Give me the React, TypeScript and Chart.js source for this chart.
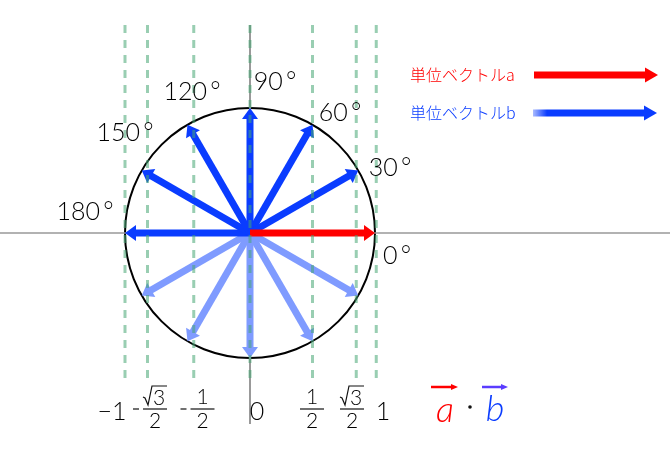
import { useEffect, useRef } from 'react';
import { Chart, registerables } from 'chart.js';

Chart.register(...registerables);

// unit vector tips (cos, sin)
const angleLabels = ['0\u2009°', '30\u2009°', '60\u2009°', '90\u2009°', '120\u2009°', '150\u2009°', '180\u2009°'];
const tipX = [1, 0.866, 0.5, 0, -0.5, -0.866, -1, -0.866, -0.5, 0, 0.5, 0.866];
const tipY = [0, 0.5, 0.866, 1, 0.866, 0.5, 0, -0.5, -0.866, -1, -0.866, -0.5];
// dashed guide lines (x values)
const guideX = [-1, -0.82, -0.45, 0, 0.5, 0.85, 1.01];
// bottom tick labels
const tickText = ['−1', '−√3/2', '−1/2', '0', '1/2', '√3/2', '1'];
const tickX = [-1.104, -0.76, -0.38, 0.056, 0.496, 0.816, 1.064];

const legendLabels = ['単位ベクトルa', '単位ベクトルb'];

// label anchors (data units)
const angleLabelX = [1.176, 1.12, 0.72, 0.2, -0.464, -1.0, -1.32];
const angleLabelY = [-0.184, 0.52, 0.96, 1.208, 1.128, 0.8, 0.168];

const RED = '#ff0000';
const BLUE = '#0a3cff';
const LIGHT = '#7f9bff';
const NUM_FONT = '300 25px Lato, "DejaVu Sans", sans-serif';

function drawArrow(ctx: CanvasRenderingContext2D, x0: number, y0: number, x1: number, y1: number,
  color: string, shaft: number, headLen: number, headW: number, fade = false) {
  const dx = x1 - x0, dy = y1 - y0;
  const len = Math.hypot(dx, dy);
  const ux = dx / len, uy = dy / len;
  const bx = x1 - ux * headLen, by = y1 - uy * headLen;
  ctx.save();
  if (fade) {
    const g = ctx.createLinearGradient(x0, y0, x0 + ux * 14, y0 + uy * 14);
    g.addColorStop(0, 'rgba(10,60,255,0.35)');
    g.addColorStop(1, color);
    ctx.strokeStyle = g;
  } else {
    ctx.strokeStyle = color;
  }
  ctx.lineWidth = shaft;
  ctx.lineCap = 'butt';
  ctx.beginPath();
  ctx.moveTo(x0, y0);
  ctx.lineTo(bx + ux, by + uy);
  ctx.stroke();
  ctx.fillStyle = color;
  ctx.beginPath();
  ctx.moveTo(x1, y1);
  ctx.lineTo(bx - uy * headW / 2, by + ux * headW / 2);
  ctx.lineTo(bx + uy * headW / 2, by - ux * headW / 2);
  ctx.closePath();
  ctx.fill();
  ctx.restore();
}

function drawFraction(ctx: CanvasRenderingContext2D, cx: number, cy: number, text: string) {
  ctx.save();
  ctx.fillStyle = '#000';
  ctx.strokeStyle = '#111';
  ctx.textAlign = 'center';
  ctx.textBaseline = 'middle';
  let t = text;
  let minus = false;
  if (t.startsWith('−')) { minus = true; t = t.slice(1); }
  const [num, den] = t.split('/');
  if (!den) {
    ctx.font = NUM_FONT;
    ctx.fillText(text, cx, cy);
    ctx.restore();
    return;
  }
  const barY = cy - 3;
  ctx.lineWidth = 1.2;
  ctx.beginPath();
  ctx.moveTo(cx - 12, barY);
  ctx.lineTo(cx + 12, barY);
  ctx.stroke();
  if (minus) {
    ctx.beginPath();
    ctx.moveTo(cx - 22, barY);
    ctx.lineTo(cx - 16, barY);
    ctx.stroke();
  }
  ctx.font = '300 21px Lato, "DejaVu Sans", sans-serif';
  ctx.fillText(den, cx, barY + 12);
  if (num.startsWith('√')) {
    ctx.fillText('3', cx + 4, barY - 11);
    ctx.beginPath();
    ctx.moveTo(cx - 12, barY - 12);
    ctx.lineTo(cx - 10, barY - 11);
    ctx.lineTo(cx - 7, barY - 4);
    ctx.lineTo(cx - 3, barY - 23);
    ctx.lineTo(cx + 12, barY - 23);
    ctx.stroke();
  } else {
    ctx.fillText(num, cx, barY - 12);
  }
  ctx.restore();
}

const diagramPlugin = {
  id: 'diagram',
  beforeDatasetsDraw(chart: any) {
    const { ctx, scales } = chart;
    const xs = scales.x, ys = scales.y;
    const cx = xs.getPixelForValue(0), cy = ys.getPixelForValue(0);
    const r = xs.getPixelForValue(1) - cx;
    ctx.save();
    ctx.strokeStyle = '#000';
    ctx.lineWidth = 2;
    ctx.beginPath();
    ctx.arc(cx, cy, r, 0, Math.PI * 2);
    ctx.stroke();
    ctx.restore();
  },
  afterDatasetDraw(chart: any, args: any) {
    const ds = chart.data.datasets[args.index];
    if (!ds.arrow) return;
    const pts = args.meta.data;
    const { ctx } = chart;
    drawArrow(ctx, pts[0].x, pts[0].y, pts[1].x, pts[1].y, ds.arrow.color,
      ds.arrow.shaft, ds.arrow.headLen, ds.arrow.headW, ds.arrow.fade);
  },
  afterDraw(chart: any) {
    const { ctx, scales } = chart;
    const xs = scales.x, ys = scales.y;
    ctx.save();
    ctx.fillStyle = '#000';
    ctx.font = NUM_FONT;
    ctx.textAlign = 'center';
    ctx.textBaseline = 'middle';
    angleLabels.forEach((t, i) => {
      ctx.fillText(t, xs.getPixelForValue(angleLabelX[i]), ys.getPixelForValue(angleLabelY[i]));
    });
    const tickY = ys.getPixelForValue(-1.432);
    tickText.forEach((t, i) => drawFraction(ctx, xs.getPixelForValue(tickX[i]), tickY, t));

    // legend texts
    ctx.font = '300 16px "Noto Sans CJK JP", sans-serif';
    ctx.textAlign = 'left';
    ctx.fillStyle = RED;
    ctx.fillText(legendLabels[0], xs.getPixelForValue(1.28), ys.getPixelForValue(1.264));
    ctx.fillStyle = BLUE;
    ctx.fillText(legendLabels[1], xs.getPixelForValue(1.28), ys.getPixelForValue(0.96));

    // a · b
    const ax = xs.getPixelForValue(1.56), ay = ys.getPixelForValue(-1.432);
    ctx.textAlign = 'center';
    ctx.font = 'italic 300 36px Lato, "DejaVu Sans", sans-serif';
    ctx.fillStyle = RED;
    ctx.fillText('a', ax, ay - 2);
    drawArrow(ctx, ax - 14, ay - 25, ax + 13, ay - 25, RED, 2.5, 7, 6);
    ctx.fillStyle = '#111';
    ctx.beginPath();
    ctx.arc(ax + 25, ay - 5, 1.8, 0, Math.PI * 2);
    ctx.fill();
    ctx.fillStyle = BLUE;
    ctx.fillText('b', ax + 50, ay - 3);
    drawArrow(ctx, ax + 37, ay - 25, ax + 63, ay - 25, '#5a3cff', 2.5, 7, 6);
    ctx.restore();
  },
};

function seg(x0: number, y0: number, x1: number, y1: number) {
  return [{ x: x0, y: y0 }, { x: x1, y: y1 }];
}

export default function App() {
  const canvasRef = useRef<HTMLCanvasElement>(null);
  const chartRef = useRef<Chart | null>(null);

  useEffect(() => {
    document.body.style.margin = '0';
    if (!canvasRef.current) return;
    if (chartRef.current) chartRef.current.destroy();

    const datasets: any[] = [];
    // axes
    datasets.push({ data: seg(-2, 0, 3.36, 0), borderColor: '#999', borderWidth: 1.5, showLine: true, pointRadius: 0, order: 10 });
    datasets.push({ data: seg(0, 1.664, 0, -1.528), borderColor: '#999', borderWidth: 2, showLine: true, pointRadius: 0, order: 10 });
    // unit vectors b (lower half lighter), a drawn last
    tipX.forEach((tx, i) => {
      if (i === 0) return;
      datasets.push({
        data: seg(0, 0, tx, tipY[i]), showLine: false, pointRadius: 0, order: i > 6 ? 6 : 5,
        arrow: { color: i > 6 ? LIGHT : BLUE, shaft: 7, headLen: 11, headW: 16 },
      });
    });
    datasets.push({
      data: seg(0, 0, tipX[0], tipY[0]), showLine: false, pointRadius: 0, order: 4,
      arrow: { color: RED, shaft: 7, headLen: 11, headW: 16 },
    });
    // legend arrows
    datasets.push({
      data: seg(2.272, 1.264, 3.264, 1.264), showLine: false, pointRadius: 0, order: 4,
      arrow: { color: RED, shaft: 7, headLen: 13, headW: 15 },
    });
    datasets.push({
      data: seg(2.264, 0.96, 3.256, 0.96), showLine: false, pointRadius: 0, order: 4,
      arrow: { color: BLUE, shaft: 7, headLen: 13, headW: 15, fade: true },
    });
    // dashed guides
    guideX.forEach((gx) => {
      datasets.push({
        data: seg(gx, 1.664, gx, -1.16), borderColor: 'rgba(70,165,115,0.55)', borderWidth: 3,
        borderDash: [8, 7], showLine: true, pointRadius: 0, order: 1,
      });
    });

    chartRef.current = new Chart(canvasRef.current, {
      type: 'scatter',
      data: { datasets },
      options: {
        animation: false,
        responsive: false,
        layout: { padding: 0 },
        plugins: { legend: { display: false }, tooltip: { enabled: false } },
        events: [],
        scales: {
          x: { type: 'linear', min: -2, max: 3.36, display: false },
          y: { type: 'linear', min: -1.736, max: 1.864, display: false },
        },
      },
      plugins: [diagramPlugin],
    });

    return () => {
      if (chartRef.current) {
        chartRef.current.destroy();
        chartRef.current = null;
      }
    };
  }, []);

  return (
    <div style={{ width: 670, height: 450, background: '#fff' }}>
      <canvas ref={canvasRef} width={670} height={450} />
    </div>
  );
}
